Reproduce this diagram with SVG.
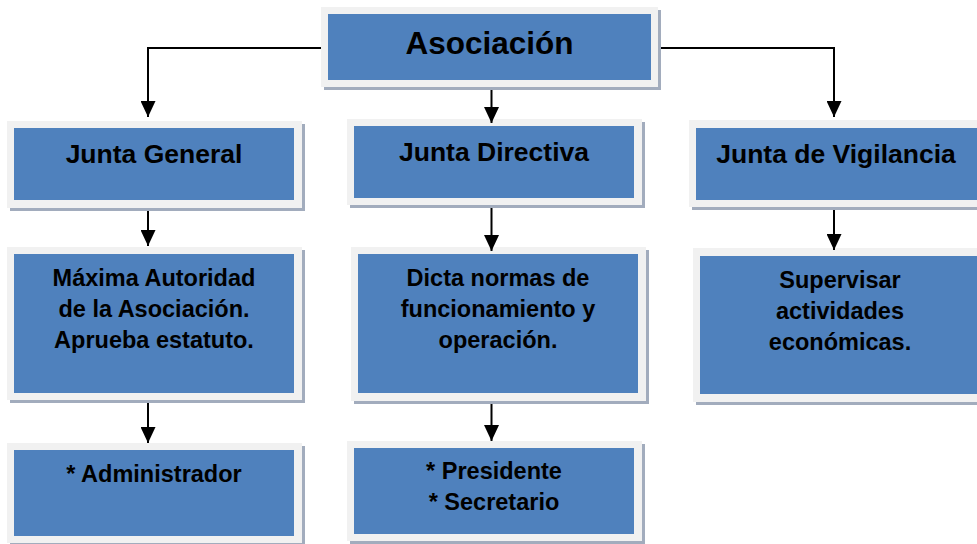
<svg xmlns="http://www.w3.org/2000/svg" width="977" height="544" viewBox="0 0 977 544">
<style>
.sh{fill:#a2acbd}
.fr{fill:#f1f1f1}
.bl{fill:#4f81bd}
text{font-family:"Liberation Sans",Arial,sans-serif;font-weight:bold;fill:#000;text-anchor:middle}
.t1{font-size:31.5px}
.t2{font-size:26.5px}
.t3{font-size:23.5px}
.cn{fill:none;stroke:#000;stroke-width:2}
</style>
<defs>
<marker id="ah" markerUnits="userSpaceOnUse" viewBox="0 0 16 15" markerWidth="16" markerHeight="15" refX="16" refY="7.5" orient="auto">
<path d="M0,0 L16,7.5 L0,15 z" fill="#000"/>
</marker>
</defs>
<rect width="977" height="544" fill="#fff"/>

<g id="asociacion">
<rect class="sh" x="324" y="10" width="337" height="80"/>
<rect class="fr" x="321" y="7" width="337" height="80"/>
<rect class="bl" x="328" y="14" width="323" height="66"/>
<text class="t1" x="489.5" y="54">Asociación</text>
</g>

<g id="junta-general">
<rect class="sh" x="10" y="124" width="295" height="87"/>
<rect class="fr" x="7" y="121" width="295" height="87"/>
<rect class="bl" x="14" y="128" width="280" height="72"/>
<text class="t2" x="154" y="163">Junta General</text>
</g>

<g id="junta-directiva">
<rect class="sh" x="350" y="122" width="295" height="86"/>
<rect class="fr" x="347" y="119" width="295" height="86"/>
<rect class="bl" x="354" y="126" width="280" height="72"/>
<text class="t2" x="494" y="161">Junta Directiva</text>
</g>

<g id="junta-vigilancia">
<rect class="sh" x="692" y="123" width="300" height="87"/>
<rect class="fr" x="689" y="120" width="300" height="87"/>
<rect class="bl" x="696" y="128" width="290" height="72"/>
<text class="t2" x="836" y="163">Junta de Vigilancia</text>
</g>

<g id="maxima-autoridad">
<rect class="sh" x="10" y="250" width="295" height="153"/>
<rect class="fr" x="7" y="247" width="295" height="153"/>
<rect class="bl" x="14" y="254" width="280" height="139"/>
<text class="t3" x="154" y="286">Máxima Autoridad</text>
<text class="t3" x="154" y="317">de la Asociación.</text>
<text class="t3" x="154" y="348">Aprueba estatuto.</text>
</g>

<g id="dicta-normas">
<rect class="sh" x="354" y="250" width="295" height="154"/>
<rect class="fr" x="351" y="247" width="295" height="154"/>
<rect class="bl" x="358" y="254" width="280" height="139"/>
<text class="t3" x="498" y="286">Dicta normas de</text>
<text class="t3" x="498" y="317">funcionamiento y</text>
<text class="t3" x="498" y="348">operación.</text>
</g>

<g id="supervisar">
<rect class="sh" x="696" y="251" width="300" height="154"/>
<rect class="fr" x="693" y="248" width="300" height="154"/>
<rect class="bl" x="700" y="256" width="290" height="138"/>
<text class="t3" x="840" y="288">Supervisar</text>
<text class="t3" x="840" y="319">actividades</text>
<text class="t3" x="840" y="350">económicas.</text>
</g>

<g id="administrador">
<rect class="sh" x="10" y="446" width="295" height="100"/>
<rect class="fr" x="7" y="443" width="295" height="100"/>
<rect class="bl" x="14" y="450" width="280" height="86"/>
<text class="t3" x="154" y="482">* Administrador</text>
</g>

<g id="presidente-secretario">
<rect class="sh" x="350" y="444" width="295" height="100"/>
<rect class="fr" x="347" y="441" width="295" height="100"/>
<rect class="bl" x="354" y="448" width="280" height="86"/>
<text class="t3" x="494" y="479">* Presidente</text>
<text class="t3" x="494" y="510">* Secretario</text>
</g>

<g id="connectors">
<path class="cn" d="M321,48 H148 V117" marker-end="url(#ah)"/>
<path class="cn" d="M661,48 H834 V117" marker-end="url(#ah)"/>
<path class="cn" d="M491.5,90 V123" marker-end="url(#ah)"/>
<path class="cn" d="M148,211 V246" marker-end="url(#ah)"/>
<path class="cn" d="M491.5,208 V251" marker-end="url(#ah)"/>
<path class="cn" d="M834,210 V250" marker-end="url(#ah)"/>
<path class="cn" d="M148,403 V443" marker-end="url(#ah)"/>
<path class="cn" d="M491.5,404 V441" marker-end="url(#ah)"/>
</g>
</svg>
